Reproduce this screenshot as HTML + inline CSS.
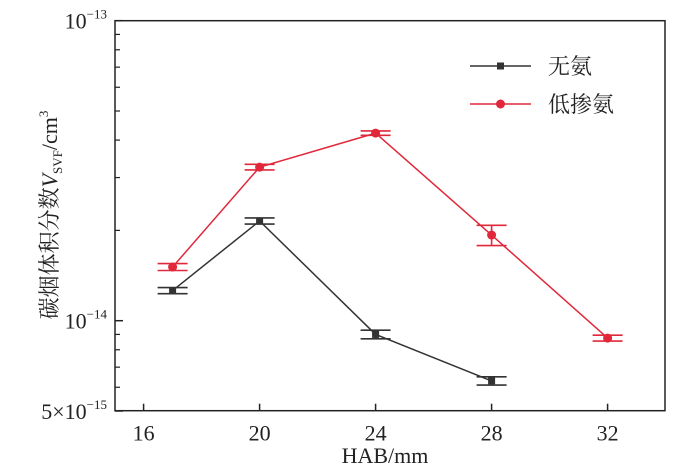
<!DOCTYPE html>
<html><head><meta charset="utf-8"><style>
body{margin:0;background:#fff}
svg{display:block}
text{font-family:"Liberation Serif","Noto Serif CJK SC",serif;fill:#222}
</style></head><body>
<svg width="700" height="474">
<g id="plot"></g>
</svg>
<script>
const categories=[17,20,24,28,32];
const seriesNames=["无氨","低掺氨"];
const noAmmonia=[1.26e-14,2.15e-14,0.90e-14,0.63e-14];
const noAmmoniaErr=[0.03e-14,0.05e-14,0.03e-14,0.02e-14];
const lowAmmonia=[1.51e-14,3.25e-14,4.22e-14,1.93e-14,0.875e-14];
const lowAmmoniaErr=[0.04e-14,0.07e-14,0.07e-14,0.15e-14,0.02e-14];
const xTicks=[16,20,24,28,32];
const yMinor=[6e-15,7e-15,8e-15,9e-15,2e-14,3e-14,4e-14,5e-14,6e-14,7e-14,8e-14,9e-14];
const L=115,R=665,T=20.7,B=410.7;
const xs=v=>143.6+(v-16)*29;
const ys=v=>320.7-300*(Math.log10(v)+14);
const NS="http://www.w3.org/2000/svg";
const g=document.getElementById('plot');
function mk(t,a,p){const e=document.createElementNS(NS,t);for(const k in a)e.setAttribute(k,a[k]);(p||g).appendChild(e);return e;}
let e=mk('rect',{x:L,y:T,width:R-L,height:B-T,fill:'none',stroke:'#222','stroke-width':1.5});


xTicks.forEach(t=>{
 let l=mk('line',{x1:xs(t),x2:xs(t),y1:B,y2:B-7,stroke:'#222','stroke-width':1.5});
 
 
 let tx=mk('text',{x:xs(t),y:B+30,'text-anchor':'middle','font-size':22});
 tx.textContent=t;
 
 
});
[1e-13,1e-14,5e-15].forEach(v=>{
 let l=mk('line',{x1:L,x2:L+8,y1:ys(v),y2:ys(v),stroke:'#222','stroke-width':1.5});
 
 
});
yMinor.forEach(v=>{
 let l=mk('line',{x1:L,x2:L+5,y1:ys(v),y2:ys(v),stroke:'#222','stroke-width':1.2});
 
 
});
function ylab(y,base,exp,name){
 let t=mk('text',{x:L-8,y:y+8,'text-anchor':'end','font-size':22});
 t.innerHTML=base+'<tspan dy="-10" font-size="13">'+exp+'</tspan>';
 
 
}
ylab(ys(1e-13),'10','−13','y-label-1e-13');
ylab(ys(1e-14),'10','−14','y-label-1e-14');
ylab(ys(5e-15),'5×10','−15','y-label-5e-15');
let xt=mk('text',{x:385,y:463,'text-anchor':'middle','font-size':22});
xt.textContent='HAB/mm';


let yt=mk('text',{x:0,y:0,'text-anchor':'middle','font-size':22,transform:'translate(57,215) rotate(-90)'});
yt.innerHTML='碳烟体积分数<tspan font-style="italic">V</tspan><tspan font-size="13" dy="5">SVF</tspan><tspan dy="-5">/cm</tspan><tspan font-size="13" dy="-9">3</tspan>';


function series(vals,errs,color,marker,name){
 const pts=vals.map((v,i)=>xs(categories[i])+','+ys(v)).join(' ');
 let pl=mk('polyline',{points:pts,fill:'none',stroke:color,'stroke-width':1.5});
 
 
 vals.forEach((v,i)=>{
  const x=xs(categories[i]),y1=ys(v+errs[i]),y2=ys(v-errs[i]);
  let eg=mk('g',{stroke:color,'stroke-width':1.6});
  
  
  mk('line',{x1:x,x2:x,y1:y1,y2:y2},eg);
  mk('line',{x1:x-15,x2:x+15,y1:y1,y2:y1},eg);
  mk('line',{x1:x-15,x2:x+15,y1:y2,y2:y2},eg);
  let m=marker==='sq'?mk('rect',{x:x-3.5,y:ys(v)-3.5,width:7,height:7,fill:color}):mk('circle',{cx:x,cy:ys(v),r:4.5,fill:color});
  
  
 });
}
series(noAmmonia,noAmmoniaErr,'#333','sq','no-ammonia');
series(lowAmmonia,lowAmmoniaErr,'#e0283a','ci','low-ammonia');
function leg(y,color,marker,label,name){
 let lg=mk('g',{});
 
 
 mk('line',{x1:470,x2:531,y1:y,y2:y,stroke:color,'stroke-width':1.5},lg);
 if(marker==='sq')mk('rect',{x:497,y:y-3.5,width:7,height:7,fill:color},lg);
 else mk('circle',{cx:500.5,cy:y,r:4.5,fill:color},lg);
 let t=mk('text',{x:548,y:y+8,'font-size':22},lg);t.textContent=label;
}
leg(66,'#333','sq',seriesNames[0],'legend-entry-no-ammonia');
leg(104,'#e0283a','ci',seriesNames[1],'legend-entry-low-ammonia');
</script>
</body></html>
